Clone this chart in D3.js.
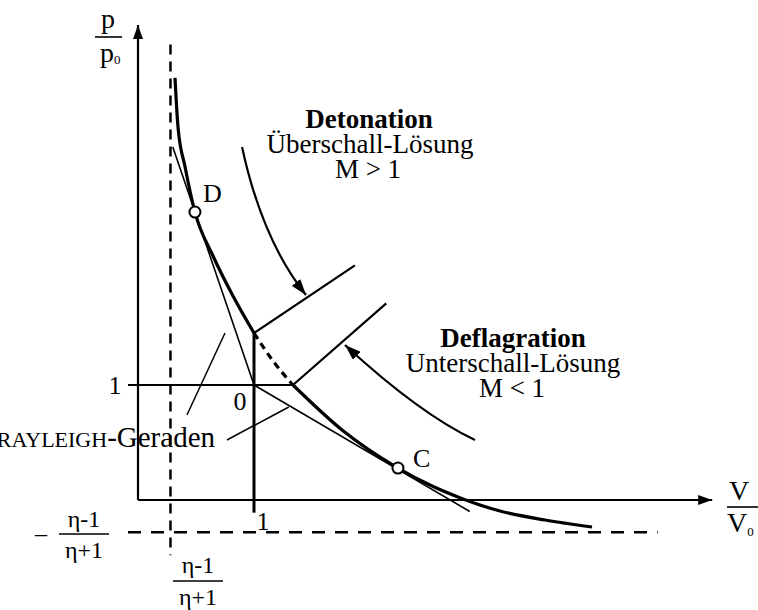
<!DOCTYPE html>
<html>
<head>
<meta charset="utf-8">
<script src="https://cdn.jsdelivr.net/npm/d3@7"></script>
<style>
  body { margin: 0; background: #fff; }
  text { font-family: "Liberation Serif", "Times New Roman", serif; fill: #000; }
</style>
</head>
<body>
<div id="chart"></div>
<script>
// values, as [V/V0, p/p0]
const hugoniotUpper = [[0.319, 3.67], [0.345, 3.24], [0.405, 2.90], [0.491, 2.504], [0.647, 2.122], [0.819, 1.774], [1.0, 1.452]]
const hugoniotForbidden = [[1.0, 1.452], [1.164, 1.209], [1.336, 1.0]]
const hugoniotLower = [[1.336, 1.0], [1.759, 0.609], [2.241, 0.278], [2.517, 0.130], [2.802, 0.009], [3.121, -0.096], [3.509, -0.174], [3.914, -0.235]]
const rayleighD = [[0.30, 3.07], [1, 1]]
const rayleighC = [[1, 1], [2.86, -0.10]]
const detonationEdge = [[1.0, 1.452], [1.87, 2.04]]
const deflagrationEdge = [[1.336, 1.0], [2.14, 1.71]]
const cjPoints = [{ name: 'D', v: 0.491, p: 2.504 }, { name: 'C', v: 2.241, p: 0.278 }]
// curved arrows: start, control, tip
const detonationArrow = [[0.897, 3.07], [1.07, 2.26], [1.448, 1.783]]
const deflagrationArrow = [[2.905, 0.522], [2.43, 0.748], [1.784, 1.348]]
const leaders = [[[0.422, 0.739], [0.75, 1.452]], [[0.767, 0.522], [1.30, 0.809]]]
const mu = 0.28          // (eta-1)/(eta+1)
const axisMax = [4.95, 4.13]
const tickOne = 1

const width = 758
const height = 610

const x = d3.scaleLinear().domain([0, 1]).range([138, 254])
const y = d3.scaleLinear().domain([0, 1]).range([500, 385])

const svg = d3.select('#chart')
    .append('svg')
    .attr('width', width)
    .attr('height', height)

const defs = svg.append('defs')
defs.append('marker')
    .attr('id', 'axhead')
    .attr('markerUnits', 'userSpaceOnUse')
    .attr('viewBox', '0 0 14 10')
    .attr('refX', 14).attr('refY', 5)
    .attr('markerWidth', 14).attr('markerHeight', 10)
    .attr('orient', 'auto')
    .append('path').attr('d', 'M0,0 L14,5 L0,10 Z').attr('fill', '#000')
defs.append('marker')
    .attr('id', 'head')
    .attr('markerUnits', 'userSpaceOnUse')
    .attr('viewBox', '0 0 16 11')
    .attr('refX', 16).attr('refY', 5.5)
    .attr('markerWidth', 16).attr('markerHeight', 11)
    .attr('orient', 'auto')
    .append('path').attr('d', 'M0,0 L16,5.5 L0,11 Z').attr('fill', '#000')

const line = d3.line().x(d => x(d[0])).y(d => y(d[1]))
const smooth = d3.line().x(d => x(d[0])).y(d => y(d[1])).curve(d3.curveMonotoneX)

// asymptotes
svg.append('line')
    .attr('x1', x(mu)).attr('x2', x(mu))
    .attr('y1', y(3.96)).attr('y2', y(-0.48))
    .attr('stroke', '#000').attr('stroke-width', 2.5)
    .attr('stroke-dasharray', '10,7')
svg.append('line')
    .attr('x1', x(-0.086)).attr('x2', x(4.48))
    .attr('y1', y(-mu)).attr('y2', y(-mu))
    .attr('stroke', '#000').attr('stroke-width', 2.5)
    .attr('stroke-dasharray', '13,10')

// axes
svg.append('line')
    .attr('x1', x(0)).attr('x2', x(0))
    .attr('y1', y(0)).attr('y2', y(axisMax[1]))
    .attr('stroke', '#000').attr('stroke-width', 2.2)
    .attr('marker-end', 'url(#axhead)')
svg.append('line')
    .attr('x1', x(0)).attr('x2', x(axisMax[0]))
    .attr('y1', y(0)).attr('y2', y(0))
    .attr('stroke', '#000').attr('stroke-width', 2.2)
    .attr('marker-end', 'url(#axhead)')

// initial state lines p=1 and V=1
svg.append('line')
    .attr('x1', x(-0.086)).attr('x2', x(hugoniotLower[0][0]))
    .attr('y1', y(tickOne)).attr('y2', y(tickOne))
    .attr('stroke', '#000').attr('stroke-width', 2.2)
svg.append('line')
    .attr('x1', x(tickOne)).attr('x2', x(tickOne))
    .attr('y1', y(hugoniotUpper[hugoniotUpper.length - 1][1])).attr('y2', y(-0.11))
    .attr('stroke', '#000').attr('stroke-width', 3)

// rayleigh lines and region edges
svg.selectAll('.rayleigh')
    .data([rayleighD, rayleighC])
    .enter().append('path')
    .attr('class', 'rayleigh')
    .attr('d', line)
    .attr('fill', 'none').attr('stroke', '#000').attr('stroke-width', 1.6)
svg.selectAll('.edge')
    .data([detonationEdge, deflagrationEdge])
    .enter().append('path')
    .attr('class', 'edge')
    .attr('d', line)
    .attr('fill', 'none').attr('stroke', '#000').attr('stroke-width', 2.2)
svg.selectAll('.leader')
    .data(leaders)
    .enter().append('path')
    .attr('class', 'leader')
    .attr('d', line)
    .attr('fill', 'none').attr('stroke', '#000').attr('stroke-width', 1.5)

// hugoniot curve, dashed between the two initial state lines
svg.append('path').attr('d', smooth(hugoniotUpper))
    .attr('fill', 'none').attr('stroke', '#000').attr('stroke-width', 3.2)
svg.append('path').attr('d', smooth(hugoniotForbidden))
    .attr('fill', 'none').attr('stroke', '#000').attr('stroke-width', 3.2)
    .attr('stroke-dasharray', '7,5')
svg.append('path').attr('d', smooth(hugoniotLower))
    .attr('fill', 'none').attr('stroke', '#000').attr('stroke-width', 3.2)

// curved arrows
function arc(pts) {
    const p = d3.path()
    p.moveTo(x(pts[0][0]), y(pts[0][1]))
    p.quadraticCurveTo(x(pts[1][0]), y(pts[1][1]), x(pts[2][0]), y(pts[2][1]))
    return p.toString()
}
svg.selectAll('.arrow')
    .data([detonationArrow, deflagrationArrow])
    .enter().append('path')
    .attr('class', 'arrow')
    .attr('d', arc)
    .attr('fill', 'none').attr('stroke', '#000').attr('stroke-width', 2.2)
    .attr('marker-end', 'url(#head)')

// chapman-jouguet points
svg.selectAll('.cj')
    .data(cjPoints)
    .enter().append('circle')
    .attr('class', 'cj')
    .attr('cx', d => x(d.v)).attr('cy', d => y(d.p))
    .attr('r', 5.5)
    .attr('fill', '#fff').attr('stroke', '#000').attr('stroke-width', 2)
svg.selectAll('.cjlabel')
    .data(cjPoints)
    .enter().append('text')
    .attr('class', 'cjlabel')
    .attr('x', d => x(d.v) + (d.name == 'D' ? 8 : 15))
    .attr('y', d => y(d.p) - (d.name == 'D' ? 10 : 1))
    .style('font-size', '26px')
    .text(d => d.name)

function label(px, py, str, size, opts = {}) {
    return svg.append('text')
        .attr('x', px).attr('y', py)
        .attr('text-anchor', opts.anchor || 'middle')
        .style('font-size', size + 'px')
        .style('font-weight', opts.bold ? 'bold' : 'normal')
        .text(str)
}

label(369, 128, 'Detonation', 27, { bold: true })
label(370, 153, 'Überschall-Lösung', 27)
label(368, 178, 'M > 1', 27)
label(513, 347, 'Deflagration', 27, { bold: true })
label(513, 372, 'Unterschall-Lösung', 27)
label(512, 397, 'M < 1', 27)

label(240, 410, '0', 26)
label(115, 394, '1', 26)
label(263, 530, '1', 26)

// rayleigh label, the left part runs off the page
const ray = svg.append('text')
    .attr('x', 215).attr('y', 447)
    .attr('text-anchor', 'end')
ray.append('tspan').style('font-size', '22px').text('RAYLEIGH')
ray.append('tspan').style('font-size', '29px').text('-Geraden')

function fraction(cx, top, bottom, barY, barW, numY, denY, size) {
    label(cx, numY, top, size)
    label(cx, denY, bottom, size)
    svg.append('line')
        .attr('x1', cx - barW / 2).attr('x2', cx + barW / 2)
        .attr('y1', barY).attr('y2', barY)
        .attr('stroke', '#000').attr('stroke-width', 1.6)
}

// axis labels
label(108, 28, 'p', 28)
svg.append('line').attr('x1', 95).attr('x2', 122).attr('y1', 37).attr('y2', 37)
    .attr('stroke', '#000').attr('stroke-width', 1.6)
const p0 = svg.append('text').attr('x', 100).attr('y', 62)
p0.append('tspan').style('font-size', '28px').text('p')
p0.append('tspan').style('font-size', '13px').attr('dy', 2).text('0')

label(739, 500, 'V', 28)
svg.append('line').attr('x1', 727).attr('x2', 758).attr('y1', 507).attr('y2', 507)
    .attr('stroke', '#000').attr('stroke-width', 1.6)
const v0 = svg.append('text').attr('x', 727).attr('y', 532)
v0.append('tspan').style('font-size', '28px').text('V')
v0.append('tspan').style('font-size', '13px').attr('dy', 4).text('0')

// asymptote labels
label(41, 541, '–', 24)
fraction(84, 'η-1', 'η+1', 534, 50, 527, 558, 24)
fraction(198, 'η-1', 'η+1', 581, 50, 573, 605, 24)
</script>
</body>
</html>
